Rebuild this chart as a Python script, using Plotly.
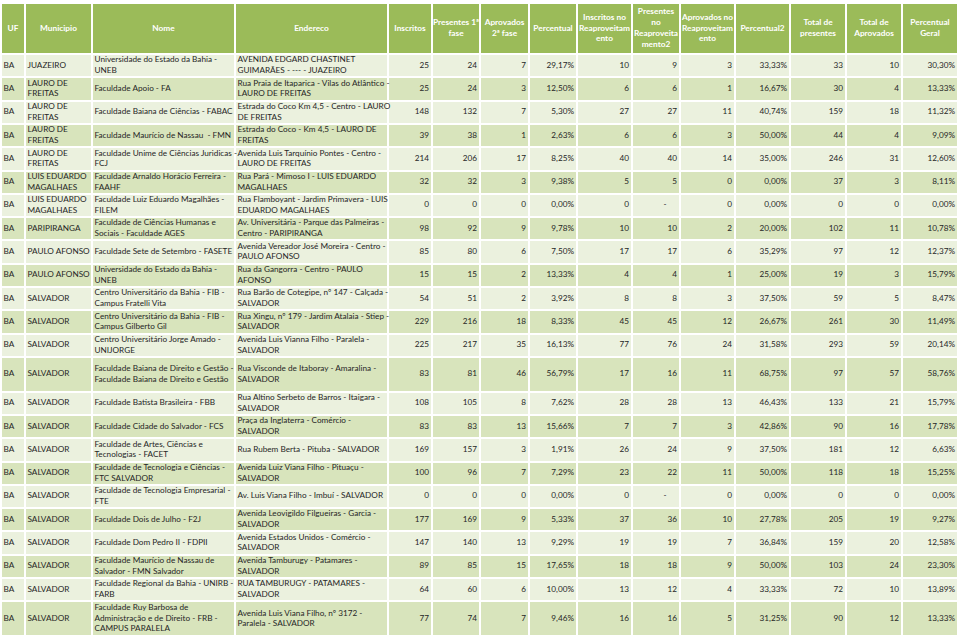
import plotly.graph_objects as go

# ---------------- data ----------------
headers = ["UF", "Municipio", "Nome", "Endereco", "Inscritos", "Presentes 1ª<br>fase",
           "Aprovados<br>2ª fase", "Percentual", "Inscritos no<br>Reaproveitam<br>ento",
           "Presentes<br>no<br>Reaproveita<br>mento2", "Aprovados no<br>Reaproveitam<br>ento",
           "Percentual2", "Total de<br>presentes", "Total de<br>Aprovados", "Percentual<br>Geral"]

uf = ["BA"] * 24

municipio = ["JUAZEIRO", "LAURO DE<br>FREITAS", "LAURO DE<br>FREITAS", "LAURO DE<br>FREITAS",
             "LAURO DE<br>FREITAS", "LUIS EDUARDO<br>MAGALHAES", "LUIS EDUARDO<br>MAGALHAES",
             "PARIPIRANGA", "PAULO AFONSO", "PAULO AFONSO", "SALVADOR", "SALVADOR", "SALVADOR",
             "SALVADOR", "SALVADOR", "SALVADOR", "SALVADOR", "SALVADOR", "SALVADOR", "SALVADOR",
             "SALVADOR", "SALVADOR", "SALVADOR", "SALVADOR"]

nome = ["Universidade do Estado da Bahia -<br>UNEB",
        "Faculdade Apoio - FA",
        "Faculdade Baiana de Ciências - FABAC",
        "Faculdade Maurício de Nassau  - FMN",
        "Faculdade Unime de Ciências Juridicas -<br>FCJ",
        "Faculdade Arnaldo Horácio Ferreira -<br>FAAHF",
        "Faculdade Luiz Eduardo Magalhães -<br>FILEM",
        "Faculdade de Ciências Humanas e<br>Sociais - Faculdade AGES",
        "Faculdade Sete de Setembro - FASETE",
        "Universidade do Estado da Bahia -<br>UNEB",
        "Centro Universitário da Bahia - FIB -<br>Campus Fratelli Vita",
        "Centro Universitário da Bahia - FIB -<br>Campus Gilberto Gil",
        "Centro Universitário Jorge Amado -<br>UNIJORGE",
        "Faculdade Baiana de Direito e Gestão -<br>Faculdade Baiana de Direito e Gestão",
        "Faculdade Batista Brasileira - FBB",
        "Faculdade Cidade do Salvador - FCS",
        "Faculdade de Artes, Ciências e<br>Tecnologias - FACET",
        "Faculdade de Tecnologia e Ciências -<br>FTC SALVADOR",
        "Faculdade de Tecnologia Empresarial -<br>FTE",
        "Faculdade Dois de Julho - F2J",
        "Faculdade Dom Pedro II - FDPII",
        "Faculdade Maurício de Nassau de<br>Salvador - FMN Salvador",
        "Faculdade Regional da Bahia - UNIRB -<br>FARB",
        "Faculdade Ruy Barbosa de<br>Administração e de Direito - FRB -<br>CAMPUS PARALELA"]

endereco = ["AVENIDA EDGARD CHASTINET<br>GUIMARÃES - --- - JUAZEIRO",
            "Rua Praia de Itaparica - Vilas do Atlântico -<br>LAURO DE FREITAS",
            "Estrada do Coco Km 4,5 - Centro - LAURO<br>DE FREITAS",
            "Estrada do Coco - Km 4,5 - LAURO DE<br>FREITAS",
            "Avenida Luis Tarquínio Pontes - Centro -<br>LAURO DE FREITAS",
            "Rua Pará - Mimoso I - LUIS EDUARDO<br>MAGALHAES",
            "Rua Flamboyant - Jardim Primavera - LUIS<br>EDUARDO MAGALHAES",
            "Av. Universitária - Parque das Palmeiras -<br>Centro - PARIPIRANGA",
            "Avenida Vereador José Moreira - Centro -<br>PAULO AFONSO",
            "Rua da Gangorra - Centro - PAULO<br>AFONSO",
            "Rua Barão de Cotegipe, nº 147 - Calçada -<br>SALVADOR",
            "Rua Xingu, nº 179 - Jardim Atalaia - Stiep -<br>SALVADOR",
            "Avenida Luis Vianna Filho - Paralela -<br>SALVADOR",
            "Rua Visconde de Itaboray - Amaralina -<br>SALVADOR",
            "Rua Altino Serbeto de Barros - Itaigara -<br>SALVADOR",
            "Praça da Inglaterra - Comércio -<br>SALVADOR",
            "Rua Rubem Berta - Pituba - SALVADOR",
            "Avenida Luiz Viana Filho - Pituaçu -<br>SALVADOR",
            "Av. Luis Viana Filho - Imbuí - SALVADOR",
            "Avenida Leovigildo Filgueiras - Garcia -<br>SALVADOR",
            "Avenida Estados Unidos - Comércio -<br>SALVADOR",
            "Avenida Tamburugy - Patamares -<br>SALVADOR",
            "RUA TAMBURUGY - PATAMARES -<br>SALVADOR",
            "Avenida Luis Viana Filho, nº 3172 -<br>Paralela - SALVADOR"]

inscritos = [25, 25, 148, 39, 214, 32, 0, 98, 85, 15, 54, 229, 225, 83, 108, 83, 169, 100, 0, 177, 147, 89, 64, 77]
presentes_1fase = [24, 24, 132, 38, 206, 32, 0, 92, 80, 15, 51, 216, 217, 81, 105, 83, 157, 96, 0, 169, 140, 85, 60, 74]
aprovados_2fase = [7, 3, 7, 1, 17, 3, 0, 9, 6, 2, 2, 18, 35, 46, 8, 13, 3, 7, 0, 9, 13, 15, 6, 7]
percentual = [29.17, 12.50, 5.30, 2.63, 8.25, 9.38, 0.00, 9.78, 7.50, 13.33, 3.92, 8.33, 16.13, 56.79,
              7.62, 15.66, 1.91, 7.29, 0.00, 5.33, 9.29, 17.65, 10.00, 9.46]
inscritos_reap = [10, 6, 27, 6, 40, 5, 0, 10, 17, 4, 8, 45, 77, 17, 28, 7, 26, 23, 0, 37, 19, 18, 13, 16]
presentes_reap = [9, 6, 27, 6, 40, 5, None, 10, 17, 4, 8, 45, 76, 16, 28, 7, 24, 22, None, 36, 19, 18, 12, 16]
aprovados_reap = [3, 1, 11, 3, 14, 0, 0, 2, 6, 1, 3, 12, 24, 11, 13, 3, 9, 11, 0, 10, 7, 9, 4, 5]
percentual2 = [33.33, 16.67, 40.74, 50.00, 35.00, 0.00, 0.00, 20.00, 35.29, 25.00, 37.50, 26.67, 31.58, 68.75,
               46.43, 42.86, 37.50, 50.00, 0.00, 27.78, 36.84, 50.00, 33.33, 31.25]
total_presentes = [33, 30, 159, 44, 246, 37, 0, 102, 97, 19, 59, 261, 293, 97, 133, 90, 181, 118, 0, 205, 159, 103, 72, 90]
total_aprovados = [10, 4, 18, 4, 31, 3, 0, 11, 12, 3, 5, 30, 59, 57, 21, 16, 12, 18, 0, 19, 20, 24, 10, 12]
percentual_geral = [30.30, 13.33, 11.32, 9.09, 12.60, 8.11, 0.00, 10.78, 12.37, 15.79, 8.47, 11.49, 20.14, 58.76,
                    15.79, 17.78, 6.63, 15.25, 0.00, 9.27, 12.58, 23.30, 13.89, 13.33]

# ---------------- layout / style ----------------
W, H = 960, 639
COL_W = [24, 67, 143, 153, 44, 48, 49, 48, 55, 48, 55, 55, 56, 56, 56]
LEFT0 = 1
HEADER_TOP, HEADER_H = 3, 51
ROW_H = 23.3
TALL_ROWS = {13: 34.7, 23: 35.0}
HDR_C, LIGHT_C, DARK_C = "#9BBB59", "#EBF1DE", "#D8E4BC"
TXT_C = "#262626"
FONT = "Lato"
FS = 8.2
HFS = 8.3
PAD_L, PAD_R = 2.5, 3

def pct(v):
    return f"{v:.2f}".replace(".", ",") + "%"

def num(v):
    return "-\u00a0\u00a0\u00a0\u00a0\u00a0" if v is None else str(v)

columns = [uf, municipio, nome, endereco,
           [num(v) for v in inscritos], [num(v) for v in presentes_1fase],
           [num(v) for v in aprovados_2fase], [pct(v) for v in percentual],
           [num(v) for v in inscritos_reap], [num(v) for v in presentes_reap],
           [num(v) for v in aprovados_reap], [pct(v) for v in percentual2],
           [num(v) for v in total_presentes], [num(v) for v in total_aprovados],
           [pct(v) for v in percentual_geral]]
left_aligned = [True, True, True, True] + [False] * 11

n_rows = len(uf)
x_edges = [LEFT0]
for w in COL_W:
    x_edges.append(x_edges[-1] + w)
y_edges = [HEADER_TOP, HEADER_TOP + HEADER_H]
for i in range(n_rows):
    y_edges.append(y_edges[-1] + TALL_ROWS.get(i, ROW_H))

z = [[0] * len(COL_W)] + [[1 if i % 2 == 0 else 2] * len(COL_W) for i in range(n_rows)]

fig = go.Figure()
fig.add_trace(go.Heatmap(x=x_edges, y=y_edges, z=z, zmin=0, zmax=2,
                         colorscale=[[0, HDR_C], [0.5, LIGHT_C], [1, DARK_C]],
                         showscale=False, xgap=2, ygap=2, hoverinfo="skip"))

row_centers = [(y_edges[i + 1] + y_edges[i + 2]) / 2 for i in range(n_rows)]
hdr_center = (y_edges[0] + y_edges[1]) / 2

for c, col in enumerate(columns):
    if left_aligned[c]:
        xs = [x_edges[c] + PAD_L] * n_rows
        pos = "middle right"
    else:
        xs = [x_edges[c + 1] - PAD_R] * n_rows
        pos = "middle left"
    fig.add_trace(go.Scatter(x=xs, y=row_centers, text=col, mode="text", textposition=pos,
                             textfont=dict(family=FONT, size=FS, color=TXT_C),
                             hoverinfo="skip", showlegend=False))

fig.add_trace(go.Scatter(x=[(x_edges[c] + x_edges[c + 1]) / 2 for c in range(len(COL_W))],
                         y=[hdr_center] * len(COL_W), text=headers, mode="text",
                         textposition="middle center",
                         textfont=dict(family=FONT, size=HFS, color="white", weight="bold"),
                         hoverinfo="skip", showlegend=False))

fig.update_layout(width=W, height=H, margin=dict(l=0, r=0, t=0, b=0),
                  paper_bgcolor="white", plot_bgcolor="white", showlegend=False,
                  xaxis=dict(range=[0, W], visible=False, fixedrange=True),
                  yaxis=dict(range=[H, 0], visible=False, fixedrange=True))

fig.write_html("out.html", config={"displayModeBar": False},
               post_script="document.body.style.margin='0';document.body.style.overflow='hidden';")
